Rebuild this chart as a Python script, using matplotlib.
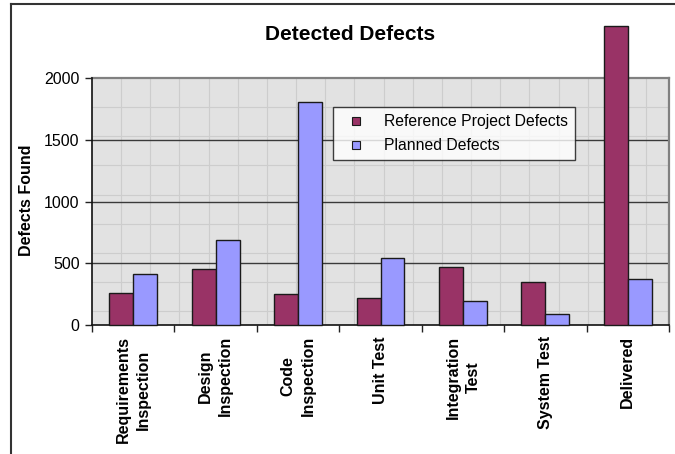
import matplotlib
matplotlib.use("Agg")
import matplotlib.pyplot as plt
from matplotlib.lines import Line2D
import numpy as np

plt.rcParams['font.family'] = ['Liberation Sans', 'DejaVu Sans']

categories = ["Requirements\nInspection", "Design\nInspection", "Code\nInspection",
              "Unit Test", "Integration\nTest", "System Test", "Delivered"]
reference_defects = [262, 453, 251, 221, 470, 351, 2420]
planned_defects = [415, 688, 1808, 545, 197, 89, 375]
series_names = ["Reference Project Defects", "Planned Defects"]
y_ticks = [0, 500, 1000, 1500, 2000]

W, H = 675, 454
fig = plt.figure(figsize=(W / 100, H / 100), dpi=100)
fig.patch.set_facecolor("white")

# plot area in pixels: left 92, right 669, top 78, bottom 325
L, R, T, B = 92, 669, 78, 325
ax = fig.add_axes([L / W, 1 - B / H, (R - L) / W, (B - T) / H])
ax.set_facecolor("#E2E2E2")

# background pattern of light squares
step = 29.16
for k in range(1, 20):
    f = k * step / (R - L)
    ax.plot([f, f], [0, 1], transform=ax.transAxes, color="#CDCDCD", lw=0.8, zorder=0.5)
k = 1
while k * step < (B - T):
    f = 1 - k * step / (B - T)
    ax.plot([0, 1], [f, f], transform=ax.transAxes, color="#CDCDCD", lw=0.8, zorder=0.5)
    k += 1

# major gridlines
for v in y_ticks[1:-1]:
    ax.axhline(v, color="#3A3A3A", lw=1.0, zorder=1)

n = len(categories)
x = np.arange(n) + 0.5
w = 0.291
red = "#993366"
blue = "#9999FF"
ax.bar(x - w / 2, reference_defects, w, color=red, edgecolor="#1A1A1A", lw=1.0,
       zorder=3, clip_on=False, label=series_names[0])
ax.bar(x + w / 2, planned_defects, w, color=blue, edgecolor="#1A1A1A", lw=1.0,
       zorder=3, clip_on=False, label=series_names[1])

ax.set_xlim(0, n)
ax.set_ylim(0, 2000)
ax.set_yticks(y_ticks)
ax.set_yticklabels([str(v) for v in y_ticks], fontsize=11.5)
ax.tick_params(axis="y", length=5, width=1, pad=4, color="#222222")

ax.set_xticks(x)
ax.set_xticklabels(categories, rotation=90, fontsize=11.5, fontweight="bold",
                   ha="center", va="top", linespacing=1.42, multialignment="center")
ax.tick_params(axis="x", which="major", length=0, pad=8)
ax.set_xticks(np.arange(n + 1), minor=True)
ax.tick_params(axis="x", which="minor", length=5, width=1, color="#222222")

for s in ["top", "right"]:
    ax.spines[s].set_color("#808080")
    ax.spines[s].set_linewidth(1.6)
for s in ["left", "bottom"]:
    ax.spines[s].set_color("#111111")
    ax.spines[s].set_linewidth(1.2)
ax.spines["top"].set_zorder(2)

handles = [Line2D([], [], ls="none", marker="s", markersize=6, markerfacecolor=red,
                  markeredgecolor="#1A1A1A", markeredgewidth=0.8),
           Line2D([], [], ls="none", marker="s", markersize=6, markerfacecolor=blue,
                  markeredgecolor="#1A1A1A", markeredgewidth=0.8)]
leg = fig.legend(handles, series_names, loc="upper left",
                 bbox_to_anchor=(333 / W, 1 - 107 / H), fontsize=11.3,
                 frameon=True, fancybox=False, borderpad=0.45, handlelength=2.0,
                 handletextpad=0.78, labelspacing=0.58, borderaxespad=0)
leg.get_frame().set_edgecolor("#111111")
leg.get_frame().set_linewidth(1.0)
leg.set_zorder(5)

fig.text(350 / W, 1 - 34.5 / H, "Detected Defects", fontsize=15, fontweight="bold",
         ha="center", va="center")
fig.text(27 / W, 1 - 200 / H, "Defects Found", fontsize=11.5, fontweight="bold",
         rotation=90, ha="center", va="center")

# outer chart border (left and top edges)
fig.add_artist(Line2D([11 / W, 11 / W], [0, 1 - 4 / H], color="#333333", lw=1.5))
fig.add_artist(Line2D([11 / W, 1], [1 - 4 / H, 1 - 4 / H], color="#333333", lw=1.5))

fig.savefig("out.png", dpi=100)
